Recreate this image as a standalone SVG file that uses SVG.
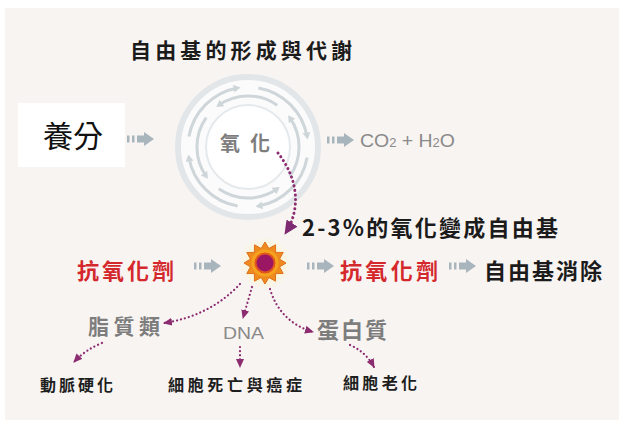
<svg xmlns="http://www.w3.org/2000/svg" xmlns:xlink="http://www.w3.org/1999/xlink" width="619" height="423" viewBox="0 0 619 423">
  <style>
    .cjk { font-family: "Noto Sans CJK TC", "Noto Sans CJK JP", sans-serif; }
    .latin { font-family: "Liberation Sans", Arial, sans-serif; }
    .title { font-size: 21px; font-weight: 700; fill: #1b1b1b; }
    .red { font-size: 22px; font-weight: 700; fill: #d4282d; }
    .black { font-size: 22px; font-weight: 700; fill: #1b1b1b; }
    .gray { font-weight: 700; fill: #7d7d7d; }
    .small { font-size: 16px; font-weight: 700; fill: #1e1e1e; }
    .dots { fill: none; stroke: #8c2c70; stroke-width: 2.2; stroke-linecap: round; stroke-dasharray: 0.1 4; }
    .ringArc { fill: none; stroke: #cfd6da; stroke-width: 3; }
  </style>
  <defs>
    <marker id="purpleHead" markerUnits="userSpaceOnUse" markerWidth="10" markerHeight="8" refX="8" refY="4" orient="auto">
      <path d="M0,0 L9,4 L0,8 z" fill="#8c2c70"/>
    </marker>
    <marker id="purpleHeadBig" markerUnits="userSpaceOnUse" markerWidth="15" markerHeight="13" refX="13" refY="6.5" orient="auto">
      <path d="M0,0 L14,6.5 L0,13 z" fill="#7e2a72"/>
    </marker>
    <marker id="ringHead" markerUnits="userSpaceOnUse" markerWidth="8" markerHeight="8" refX="4" refY="4" orient="auto">
      <path d="M0,0 L7,4 L0,8 z" fill="#cfd6da"/>
    </marker>
    <!-- grey "step" arrow: two bars, shaft and head -->
    <g id="stepArrow" fill="#a8b5bc">
      <rect x="0" y="-3.5" width="2.5" height="7"/>
      <rect x="5" y="-3.5" width="2.5" height="7"/>
      <rect x="10" y="-3.5" width="8" height="7"/>
      <polygon points="17,-7 27,0 17,7"/>
    </g>
    <radialGradient id="glow" cx="0.5" cy="0.5" r="0.5">
      <stop offset="0" stop-color="#fff6a8" stop-opacity="0.9"/>
      <stop offset="1" stop-color="#fff6a8" stop-opacity="0"/>
    </radialGradient>
    <radialGradient id="discGlow" cx="0.5" cy="0.5" r="0.5">
      <stop offset="0.7" stop-color="#ffffff"/>
      <stop offset="1" stop-color="#ffffff" stop-opacity="0"/>
    </radialGradient>
  </defs>

  <!-- page -->
  <rect x="0" y="0" width="619" height="423" fill="#ffffff"/>
  <rect x="5" y="8" width="614" height="412" fill="#f8f4f2"/>

  <text class="cjk title" x="130" y="57.5" textLength="222" lengthAdjust="spacing">自由基的形成與代謝</text>

  <!-- nutrient box -->
  <g id="nutrient">
    <rect x="18" y="103" width="107" height="64" fill="#ffffff"/>
    <text class="cjk" x="43" y="147" font-size="30" fill="#111111">養分</text>
  </g>

  <!-- oxidation cycle -->
  <g id="oxidation">
    <circle cx="248" cy="147" r="70" fill="#fbfbfb" stroke="#e2e6e9" stroke-width="6"/>
    <path class="ringArc" marker-end="url(#ringHead)" d="M258.4,87.9 A60,60 0 0 1 307.1,136.6"/>
    <path class="ringArc" marker-end="url(#ringHead)" d="M307.1,157.4 A60,60 0 0 1 258.4,206.1"/>
    <path class="ringArc" marker-end="url(#ringHead)" d="M237.6,206.1 A60,60 0 0 1 188.9,157.4"/>
    <path class="ringArc" marker-end="url(#ringHead)" d="M188.9,136.6 A60,60 0 0 1 237.6,87.9"/>
    <path class="ringArc" marker-end="url(#ringHead)" d="M289.8,176.3 A51,51 0 0 0 289.8,117.7"/>
    <path class="ringArc" marker-end="url(#ringHead)" d="M218.7,188.8 A51,51 0 0 0 277.3,188.8"/>
    <path class="ringArc" marker-end="url(#ringHead)" d="M206.2,117.7 A51,51 0 0 0 206.2,176.3"/>
    <path class="ringArc" marker-end="url(#ringHead)" d="M277.3,105.2 A51,51 0 0 0 218.7,105.2"/>
    <circle cx="248" cy="147" r="44" fill="url(#discGlow)"/>
    <circle cx="248" cy="147" r="42" fill="#ffffff" stroke="#e6e9eb" stroke-width="2"/>
    <text class="cjk gray" x="220" y="151" font-size="20" textLength="50" lengthAdjust="spacing" fill="#727272">氧化</text>
  </g>

  <g id="products">
    <text class="latin" x="360" y="147" font-size="18" fill="#8a8a8a" textLength="95" lengthAdjust="spacingAndGlyphs">CO<tspan font-size="12">2</tspan> + H<tspan font-size="12">2</tspan>O</text>
  </g>

  <g id="radicalNote">
    <text class="cjk black" x="302" y="235.5" font-size="21" textLength="256" lengthAdjust="spacing">2-3%的氧化變成自由基</text>
  </g>

  <g id="antioxidantIn">
    <text class="cjk red" x="77" y="279" textLength="97" lengthAdjust="spacing">抗氧化劑</text>
  </g>

  <!-- free radical -->
  <g id="radical" transform="translate(265,263)">
    <circle r="27" fill="url(#glow)"/>
    <polygon fill="#ef8a1f" stroke="#e0701a" stroke-width="1" points="21,0 14.49,3.88 18.19,10.5 10.61,10.61 10.5,18.19 3.88,14.49 0,21 -3.88,14.49 -10.5,18.19 -10.61,10.61 -18.19,10.5 -14.49,3.88 -21,0 -14.49,-3.88 -18.19,-10.5 -10.61,-10.61 -10.5,-18.19 -3.88,-14.49 0,-21 3.88,-14.49 10.5,-18.19 10.61,-10.61 18.19,-10.5 14.49,-3.88"/>
    <circle r="13.5" fill="#f5a21f"/>
    <circle r="10.5" fill="#e2561c"/>
    <circle r="8.5" fill="#9b1764"/>
  </g>

  <g id="antioxidantOut">
    <text class="cjk red" x="340" y="279" textLength="98" lengthAdjust="spacing">抗氧化劑</text>
  </g>

  <g id="cleared">
    <text class="cjk black" x="484" y="279" textLength="118" lengthAdjust="spacing">自由基消除</text>
  </g>

  <g id="lipid">
    <text class="cjk gray" x="88" y="334" font-size="21" textLength="72" lengthAdjust="spacing">脂質類</text>
  </g>
  <g id="dna">
    <text class="latin" x="223" y="339" font-size="17" fill="#8a8a8a" textLength="41" lengthAdjust="spacingAndGlyphs">DNA</text>
  </g>
  <g id="protein">
    <text class="cjk gray" x="317" y="338" font-size="22" textLength="70" lengthAdjust="spacing">蛋白質</text>
  </g>

  <g id="arteriosclerosis">
    <text class="cjk small" x="40" y="391" textLength="73" lengthAdjust="spacing">動脈硬化</text>
  </g>
  <g id="cellDeath">
    <text class="cjk small" x="168" y="391" textLength="134" lengthAdjust="spacing">細胞死亡與癌症</text>
  </g>
  <g id="aging">
    <text class="cjk small" x="343" y="389" textLength="74" lengthAdjust="spacing">細胞老化</text>
  </g>

  <!-- connectors -->
  <g id="connectors">
    <use href="#stepArrow" xlink:href="#stepArrow" transform="translate(127,139)"/>
    <use href="#stepArrow" xlink:href="#stepArrow" transform="translate(327,140)"/>
    <use href="#stepArrow" xlink:href="#stepArrow" transform="translate(194,266)"/>
    <use href="#stepArrow" xlink:href="#stepArrow" transform="translate(307,266)"/>
    <use href="#stepArrow" xlink:href="#stepArrow" transform="translate(449,266)"/>

    <path class="dots" style="stroke-width:3;stroke-dasharray:0.1 4.5" marker-end="url(#purpleHeadBig)" d="M278,153 C296,176 303,206 285,234"/>

    <path class="dots" marker-end="url(#purpleHead)" d="M240,284 Q210,316 164,323"/>
    <path class="dots" marker-end="url(#purpleHead)" d="M252,287 L243,318"/>
    <path class="dots" marker-end="url(#purpleHead)" d="M270,289 Q280,322 313,332"/>

    <path class="dots" marker-end="url(#purpleHead)" d="M102,343 Q85,350 74,362"/>
    <path class="dots" marker-end="url(#purpleHead)" d="M240,347 L240,367"/>
    <path class="dots" marker-end="url(#purpleHead)" d="M350,345 Q366,352 374,367"/>
  </g>
</svg>
